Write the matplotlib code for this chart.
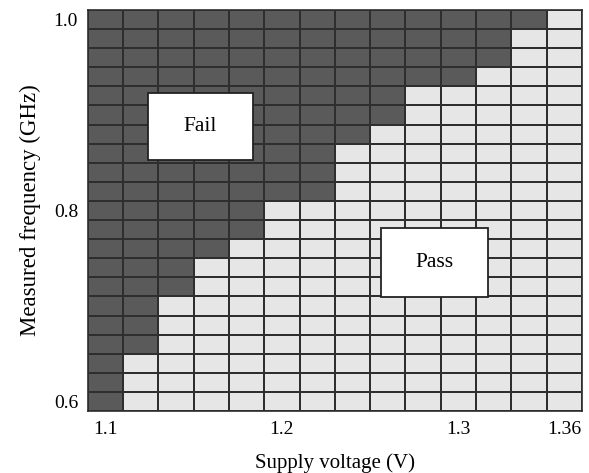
import numpy as np
import matplotlib
matplotlib.use("Agg")
import matplotlib.pyplot as plt
from matplotlib.patches import Rectangle
from matplotlib.colors import ListedColormap

plt.rcParams['font.family'] = ['Liberation Serif', 'DejaVu Serif']

# Shmoo data
voltages = [1.10, 1.12, 1.14, 1.16, 1.18, 1.20, 1.22, 1.24, 1.26, 1.28, 1.30, 1.32, 1.34, 1.36]
frequencies = [0.60, 0.62, 0.64, 0.66, 0.68, 0.70, 0.72, 0.74, 0.76, 0.78, 0.80,
               0.82, 0.84, 0.86, 0.88, 0.90, 0.92, 0.94, 0.96, 0.98, 1.00]
# highest passing frequency per voltage (None = no pass)
max_pass_freq = [None, 0.64, 0.70, 0.74, 0.76, 0.80, 0.80, 0.86, 0.88, 0.92, 0.92, 0.94, 0.98, 1.00]

x_ticks = [1.1, 1.2, 1.3, 1.36]
x_tick_labels = ["1.1", "1.2", "1.3", "1.36"]
y_ticks = [0.6, 0.8, 1.0]
y_tick_labels = ["0.6", "0.8", "1.0"]

v = np.array(voltages)
f = np.array(frequencies)
grid = np.zeros((len(f), len(v)))
for j, mp in enumerate(max_pass_freq):
    if mp is not None:
        grid[f <= mp + 1e-9, j] = 1

dv = 0.02
df = 0.02
v_edges = np.concatenate([v - dv / 2, [v[-1] + dv / 2]])
f_edges = np.concatenate([f - df / 2, [f[-1] + df / 2]])

fig = plt.figure(figsize=(5.89, 4.73), dpi=100)
ax = fig.add_axes([0.149, 0.131, 0.839, 0.848])
cmap = ListedColormap(["#5a5a5a", "#e6e6e6"])
ax.pcolormesh(v_edges, f_edges, grid, cmap=cmap, vmin=0, vmax=1,
              edgecolors="#2e2e2e", linewidth=1.1)

ax.set_xlim(v_edges[0], v_edges[-1])
ax.set_ylim(f_edges[0], f_edges[-1])
ax.set_xticks(x_ticks)
ax.set_xticklabels(x_tick_labels)
ax.set_yticks(y_ticks)
ax.set_yticklabels(y_tick_labels)
ax.tick_params(length=0, labelsize=14, pad=7)
for s in ax.spines.values():
    s.set_color("#2e2e2e")
    s.set_linewidth(1.2)

# Labels boxes
ax.add_patch(Rectangle((1.124, 0.853), 1.1837 - 1.124, 0.9234 - 0.853,
                       facecolor="white", edgecolor="#222222", linewidth=1.3, zorder=3))
ax.text((1.124 + 1.1837) / 2, (0.853 + 0.9234) / 2, "Fail", ha="center", va="center",
        fontsize=15.5, zorder=4)
ax.add_patch(Rectangle((1.2564, 0.7095), 1.3168 - 1.2564, 0.7817 - 0.7095,
                       facecolor="white", edgecolor="#222222", linewidth=1.3, zorder=3))
ax.text((1.2564 + 1.3168) / 2, (0.7095 + 0.7817) / 2, "Pass", ha="center", va="center",
        fontsize=15.5, zorder=4)

ax.set_xlabel("Supply voltage (V)", fontsize=15, labelpad=11)
ax.set_ylabel("Measured frequency (GHz)", fontsize=16.5, labelpad=9)

fig.savefig("out.png", dpi=100)
